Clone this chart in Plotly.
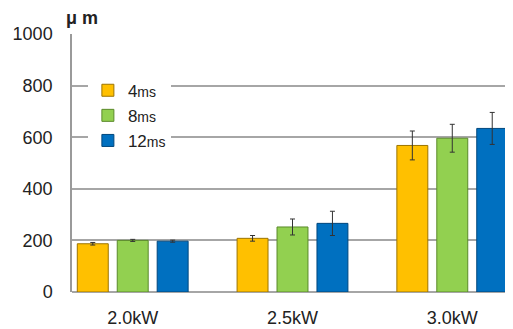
import plotly.graph_objects as go

categories = ["2.0kW", "2.5kW", "3.0kW"]
series_names = ["4ms", "8ms", "12ms"]
values_4ms = [187, 208, 568]
values_8ms = [200, 252, 596]
values_12ms = [197, 266, 634]
err_4ms = [5, 11, 56]
err_8ms = [4, 31, 54]
err_12ms = [4, 47, 62]
y_ticks = [0, 200, 400, 600, 800, 1000]

fills = ["#FFC000", "#92D050", "#0070C0"]
lines = ["#9C7400", "#5A8A2A", "#00477D"]

fig = go.Figure()
for name, vals, errs, fc, lc in zip(series_names, [values_4ms, values_8ms, values_12ms],
                                     [err_4ms, err_8ms, err_12ms], fills, lines):
    num = name[:-2]
    fig.add_trace(go.Bar(
        x=categories, y=vals, name=num + "<span style='font-size:14px'>ms</span>",
        marker=dict(color=fc, line=dict(color=lc, width=1)),
        error_y=dict(type="data", array=errs, visible=True, color="#333333", thickness=1, width=2.5),
    ))

fig.update_layout(
    width=505, height=321,
    margin=dict(l=64, r=0, t=26, b=37, autoexpand=False),
    paper_bgcolor="white", plot_bgcolor="white",
    barmode="group", bargap=0.25, bargroupgap=0.225,
    font=dict(family="Arial, Liberation Sans, sans-serif", color="#222222"),
    showlegend=True,
    legend=dict(x=0.036, y=0.85, xanchor="left", yanchor="top", bgcolor="white",
                font=dict(size=17, color="#222222"), tracegroupgap=0, itemwidth=30,
                entrywidth=70),
    xaxis=dict(range=[-0.38, 2.38], showgrid=False, showline=False, zeroline=False,
               tickfont=dict(size=18), ticks="", ticklabelstandoff=13),
    yaxis=dict(range=[0, 1000], tickvals=y_ticks, showgrid=True, gridcolor="#A6A6A6", gridwidth=1.5,
               showline=True, linecolor="#9A9A9A", linewidth=1.5, zeroline=True, zerolinecolor="#A6A6A6",
               zerolinewidth=1.5, tickfont=dict(size=18), ticks="", ticklabelstandoff=14),
    annotations=[dict(text="<b>μ m</b>", xref="paper", yref="paper", x=-0.018, y=1.015,
                      xanchor="left", yanchor="bottom", showarrow=False, font=dict(size=18, color="#222222"))],
)

fig.write_html("out.html")
